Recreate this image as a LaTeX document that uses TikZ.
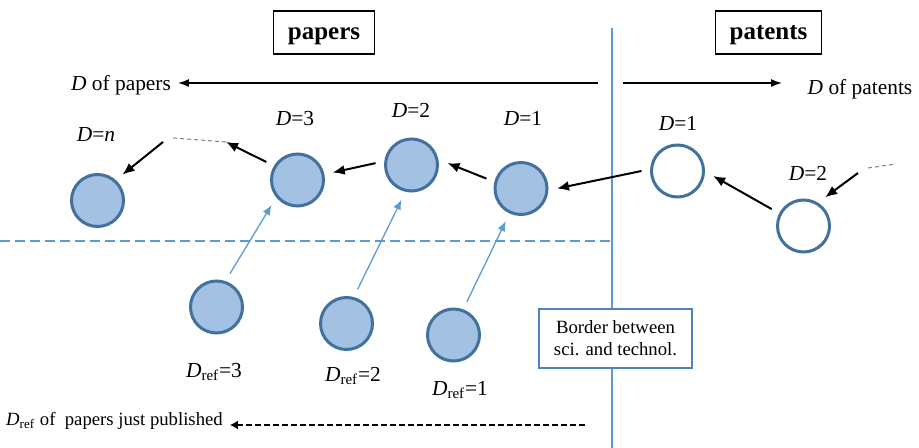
\documentclass[tikz,border=0pt]{standalone}
\usepackage{fontspec}
\setmainfont{Liberation Serif}
\usetikzlibrary{arrows.meta}

\definecolor{edgeblue}{RGB}{65,113,156}
\definecolor{fillblue}{RGB}{163,193,226}
\definecolor{lineblue}{RGB}{91,155,213}
\definecolor{boxblue}{RGB}{79,129,189}
\newcommand{\Dref}{\textit{D}\textsubscript{ref}}

\begin{document}
\begin{tikzpicture}[
        x=0.5pt, y=-0.5pt, % one unit = one pixel, y downwards
        lbl/.style={font=\fontsize{10.7}{13}\selectfont},
        note/.style={font=\fontsize{9.35}{11}\selectfont, align=center},
        head/.style={draw, line width=0.6pt, inner xsep=7pt, inner ysep=0pt, minimum height=21.5pt, text height=9.5pt, text depth=2.5pt, font=\fontsize{12.5}{15}\selectfont\bfseries},
        paper/.style={circle, draw=edgeblue, fill=fillblue, line width=1.5pt, minimum size=26pt, inner sep=0pt, outer sep=5pt}, % cited paper
        patent/.style={paper, fill=white},
        flow/.style={line width=1pt, -{Latex[length=6pt, width=5pt]}},
        cite/.style={lineblue, line width=0.65pt, -{Latex[length=5pt, width=4pt]}},
        trail/.style={gray, line width=0.5pt, dash pattern=on 2pt off 1.5pt},
        axis/.style={line width=0.75pt, -{Latex[length=5.5pt, width=4pt]}},
        refaxis/.style={line width=0.9pt, dash pattern=on 2.8pt off 1.7pt, -{Latex[length=4pt, width=4.5pt]}},
    ]
    \useasboundingbox (0,0) rectangle (919,448);

    % border and published line
    \coordinate (brdtop) at (612,28);
    \coordinate (brdbot) at (612,448);
    \draw[lineblue, line width=0.6pt] (brdtop) -- (brdbot);
    \coordinate (publ) at (0,240.7);
    \coordinate (pubr) at (612,240.7);
    \draw[lineblue, line width=0.9pt, dash pattern=on 5pt off 2.5pt] (publ) -- (pubr);

    \node[head] (papers) at (324,32.5) {papers};
    \node[head] (patents) at (768.5,32.5) {patents};
    \node[lbl] (dpap) at (121,85) {\textit{D} of papers};
    \node[lbl] (dpat) at (860,89.5) {\textit{D} of patents};

    \node[paper] (papn) at (97.5,200.5) {};
    \node[paper] (pap3) at (297.5,180) {};
    \node[paper] (pap2) at (411.5,165) {};
    \node[paper] (pap1) at (521,188.5) {};
    \node[patent] (pat1) at (677.5,171) {};
    \node[patent] (pat2) at (803.5,226) {};
    \node[paper] (ref3) at (216.5,307) {};
    \node[paper] (ref2) at (346.5,323.5) {};
    \node[paper] (ref1) at (453.5,335) {};

    \node[lbl] (ln) at (96,135) {\textit{D}=\textit{n}};
    \node[lbl] (l3) at (295,119) {\textit{D}=3};
    \node[lbl] (l2) at (411,110) {\textit{D}=2};
    \node[lbl] (l1) at (523,118) {\textit{D}=1};
    \node[lbl] (lt1) at (678,123) {\textit{D}=1};
    \node[lbl] (lt2) at (808,173) {\textit{D}=2};
    \node[lbl] (lr3) at (214,372) {\Dref=3};
    \node[lbl] (lr2) at (353,376) {\Dref=2};
    \node[lbl] (lr1) at (460,390) {\Dref=1};

    \node[note] (dlatest) at (114.5,420.5) {\Dref{} of\ \ papers just published};
    \node[note, draw=boxblue, fill=white, line width=0.6pt, minimum width=76.5pt, minimum height=29.5pt] (border) at (615.5,338.5) {Border between\\sci. and technol.};

    % free ends
    \coordinate (gapr) at (226,142);
    \coordinate (gapl) at (173,138);
    \coordinate (tailn) at (163,142);
    \coordinate (tailt) at (858,173);
    \coordinate (trailt) at (868,168);
    \coordinate (endt) at (896,164);
    \coordinate (lstart) at (598,83);
    \coordinate (rstart) at (623,83);
    \coordinate (rend) at (782,83);
    \coordinate (bstart) at (585,425);

    % citation chain
    \draw[flow] (pat2.152) -- (pat1.-8);
    \draw[flow] (pat1.180) -- (pap1.0);
    \draw[flow] (pap1.164) -- (pap2.3);
    \draw[flow] (pap2.177) -- (pap3.12);
    \draw[flow] (pap3.150) -- (gapr);
    \draw[trail] (gapr) -- (gapl);
    \draw[flow] (tailn) -- (papn.46);
    \draw[flow] (tailt) -- (pat2.53);
    \draw[trail] (trailt) -- (endt);

    \draw[cite] (ref3.68) -- (pap3.224);
    \draw[cite] (ref2.72) -- (pap2.254);
    \draw[cite] (ref1.68) -- (pap1.245);

    \draw[axis] (lstart) -- (lstart -| dpap.east);
    \draw[axis] (rstart) -- (rend);
    \draw[refaxis] (bstart) -- (bstart -| dlatest.east);
\end{tikzpicture}
\end{document}
